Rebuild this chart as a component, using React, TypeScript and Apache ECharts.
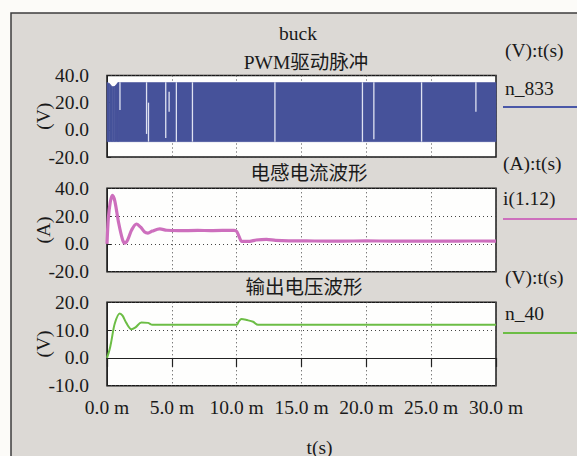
import React, { useEffect, useRef } from "react";
import * as echarts from "echarts";

// ---- data (time in ms) ----
const xTickStep = 5;
const pwmTime = [0, 0.2, 0.4, 0.6, 0.85, 30];
const pwmHigh = [35, 34, 31.8, 32, 34.8, 34.8];
const pwmLowLevel = -8.7;
const gapTime = [1.0, 3.05, 3.2, 4.53, 4.79, 5.35, 6.59, 12.95, 19.7, 20.58, 24.26, 28.45];
const gapLow = [14.6, -3, -8.7, -6, 13.3, -8.7, -8.7, -8.7, -8.7, -7, -8.7, 13.3];
const gapHigh = [35, 35, 20, 35, 28, 35, 35, 35, 35, 35, 35, 35];

const curTime = [0, 0.1, 0.25, 0.42, 0.6, 0.9, 1.2, 1.37, 1.6, 1.9, 2.27, 2.6, 2.9, 3.16, 3.5, 4.07, 4.6, 5.5, 7, 8, 9.8, 10.0, 10.2, 10.4, 11, 11.5, 12.3, 13, 14, 16, 18, 20, 22, 24, 26, 28, 30];
const curVal = [0, 18, 30, 35, 31, 15, 3, 0.5, 3, 10, 14.3, 12, 8.5, 7.8, 9.2, 10.8, 9.8, 9.5, 9.7, 9.6, 9.8, 9.0, 5, 1.8, 1.8, 2.8, 3.3, 2.6, 2.2, 2.1, 2.0, 2.2, 2.0, 2.1, 2.0, 2.1, 2.0];

const voltTime = [0, 0.2, 0.35, 0.6, 0.98, 1.2, 1.5, 1.88, 2.2, 2.65, 3.16, 3.5, 10, 10.15, 10.37, 10.8, 11.27, 11.65, 30];
const voltVal = [0, 3, 6.4, 12.4, 16.0, 15.2, 12.5, 10.3, 11.0, 12.7, 12.6, 11.9, 11.9, 13.0, 14.0, 13.6, 13.0, 11.9, 11.9];

const yNames = ["(V)", "(A)", "(V)"];

const FONT = "'Liberation Serif', 'Noto Sans CJK SC', serif";
const TXT = "#1a1a1a";
const BLUE = "#46529a";
const PINK = "#cd6fbd";
const GREEN = "#6cbd45";

export default function App() {
  const ref = useRef<HTMLDivElement>(null);
  useEffect(() => {
    if (!ref.current) return;
    const chart = echarts.init(ref.current, undefined, { renderer: "svg" });
    const gridPos = [
      { top: 75.5, height: 81.5 },
      { top: 188.3, height: 83.4 },
      { top: 302.3, height: 83.4 },
    ];
    const grids = gridPos.map((g) => ({
      left: 107,
      width: 389,
      top: g.top,
      height: g.height,
      show: true,
      backgroundColor: "#fefefd",
      borderColor: "#1a1a1a",
      borderWidth: 1.5,
    }));
    const yRanges = [
      { min: -20, max: 40, interval: 20 },
      { min: -20, max: 40, interval: 20 },
      { min: -10, max: 20, interval: 10 },
    ];
    const yAxis = yRanges.map((r, i) => ({
      gridIndex: i,
      type: "value",
      min: r.min,
      max: r.max,
      interval: r.interval,
      offset: 5,
      axisLine: { show: true, lineStyle: { color: "#222", width: 1 } },
      axisTick: { show: true, inside: true, length: 4, lineStyle: { color: "#222" } },
      axisLabel: {
        formatter: (v: number) => v.toFixed(1),
        margin: 13,
        fontFamily: FONT,
        fontSize: 19.5,
        color: TXT,
      },
      splitLine: { show: true, lineStyle: { type: [1, 3], color: "#444", width: 1 } },
    }));
    const xAxis = [0, 1, 2].map((i) => ({
      gridIndex: i,
      type: "value",
      min: 0,
      max: 30,
      interval: xTickStep,
      offset: i === 2 ? 5 : 0,
      axisLine: { show: i === 2, lineStyle: { color: "#222", width: 1.2 } },
      axisTick: { show: i === 2, inside: false, length: 9, lineStyle: { color: "#222", width: 1.2 } },
      axisLabel: {
        show: i === 2,
        formatter: (v: number) => `${v.toFixed(1)} m`,
        margin: 7,
        fontFamily: FONT,
        fontSize: 19.5,
        color: TXT,
      },
      splitLine: { show: true, lineStyle: { type: [1, 3], color: "#444", width: 1 } },
    }));

    const text = (t: string, x: number, y: number, align = "center", rotation = 0) => ({
      type: "text",
      x,
      y,
      z: 10,
      rotation,
      style: {
        text: t,
        fill: TXT,
        font: `19.5px ${FONT}`,
        textAlign: align,
        textVerticalAlign: "middle",
      },
    });
    const lgLine = (y: number, color: string) => ({
      type: "line",
      z: 10,
      shape: { x1: 503, y1: y, x2: 580, y2: y },
      style: { stroke: color, lineWidth: 2 },
    });

    // band segments for the PWM envelope
    const bandData = pwmTime.slice(0, -1).map((t, i) => [t, pwmTime[i + 1], pwmHigh[i], pwmHigh[i + 1], pwmLowLevel]);

    chart.setOption({
      animation: false,
      backgroundColor: "#fcfbf8",
      grid: grids,
      xAxis,
      yAxis,
      graphic: [
        {
          type: "rect",
          z: -100,
          shape: { x: 11, y: 13, width: 620, height: 500 },
          style: { fill: "#dcd9d5", stroke: "#3c3c3c", lineWidth: 1.5 },
        },
        text("buck", 298, 33),
        text("PWM驱动脉冲", 306, 62),
        text("电感电流波形", 309, 173),
        text("输出电压波形", 304, 287),
        text("t(s)", 319.5, 447),
        ...yNames.map((n, i) => text(n, 43, gridPos[i].top + gridPos[i].height / 2, "center", Math.PI / 2)),
        text("(V):t(s)", 505, 50, "left"),
        text("n_833", 505, 88, "left"),
        lgLine(107, "#4a58a8"),
        text("(A):t(s)", 503, 163, "left"),
        text("i(1.12)", 503, 198, "left"),
        lgLine(219, PINK),
        text("(V):t(s)", 505, 277, "left"),
        text("n_40", 505, 313, "left"),
        lgLine(333, GREEN),
      ],
      series: [
        {
          type: "custom",
          xAxisIndex: 0,
          yAxisIndex: 0,
          encode: { x: [0, 1], y: [2, 3, 4] },
          data: bandData,
          renderItem: (_p: any, api: any) => {
            const t0 = api.value(0), t1 = api.value(1);
            const h0 = api.value(2), h1 = api.value(3), lo = api.value(4);
            const pts = [
              api.coord([t0, lo]),
              api.coord([t0, h0]),
              api.coord([t1, h1]),
              api.coord([t1, lo]),
            ];
            return {
              type: "polygon",
              shape: { points: pts },
              style: { fill: BLUE, stroke: BLUE, lineWidth: 0.6 },
            };
          },
        },
        {
          type: "custom",
          xAxisIndex: 0,
          yAxisIndex: 0,
          encode: { x: 0, y: [1, 2] },
          data: gapTime.map((t, i) => [t, gapLow[i], gapHigh[i]]),
          z: 3,
          renderItem: (_p: any, api: any) => {
            const a = api.coord([api.value(0), api.value(1)]);
            const b = api.coord([api.value(0), api.value(2)]);
            return {
              type: "line",
              shape: { x1: a[0], y1: a[1], x2: b[0], y2: b[1] },
              style: { stroke: "#dfe2f2", lineWidth: 1.3 },
            };
          },
        },
        {
          type: "line",
          xAxisIndex: 1,
          yAxisIndex: 1,
          symbol: "none",
          smooth: 0.3,
          lineStyle: { width: 3.2, color: PINK },
          data: curTime.map((t, i) => [t, curVal[i]]),
        },
        {
          type: "line",
          xAxisIndex: 2,
          yAxisIndex: 2,
          symbol: "none",
          smooth: 0.3,
          lineStyle: { width: 2, color: GREEN },
          data: voltTime.map((t, i) => [t, voltVal[i]]),
        },
      ],
    });
    return () => chart.dispose();
  }, []);
  return (
    <div
      ref={ref}
      style={{ position: "absolute", left: 0, top: 0, width: 577, height: 456 }}
    />
  );
}
